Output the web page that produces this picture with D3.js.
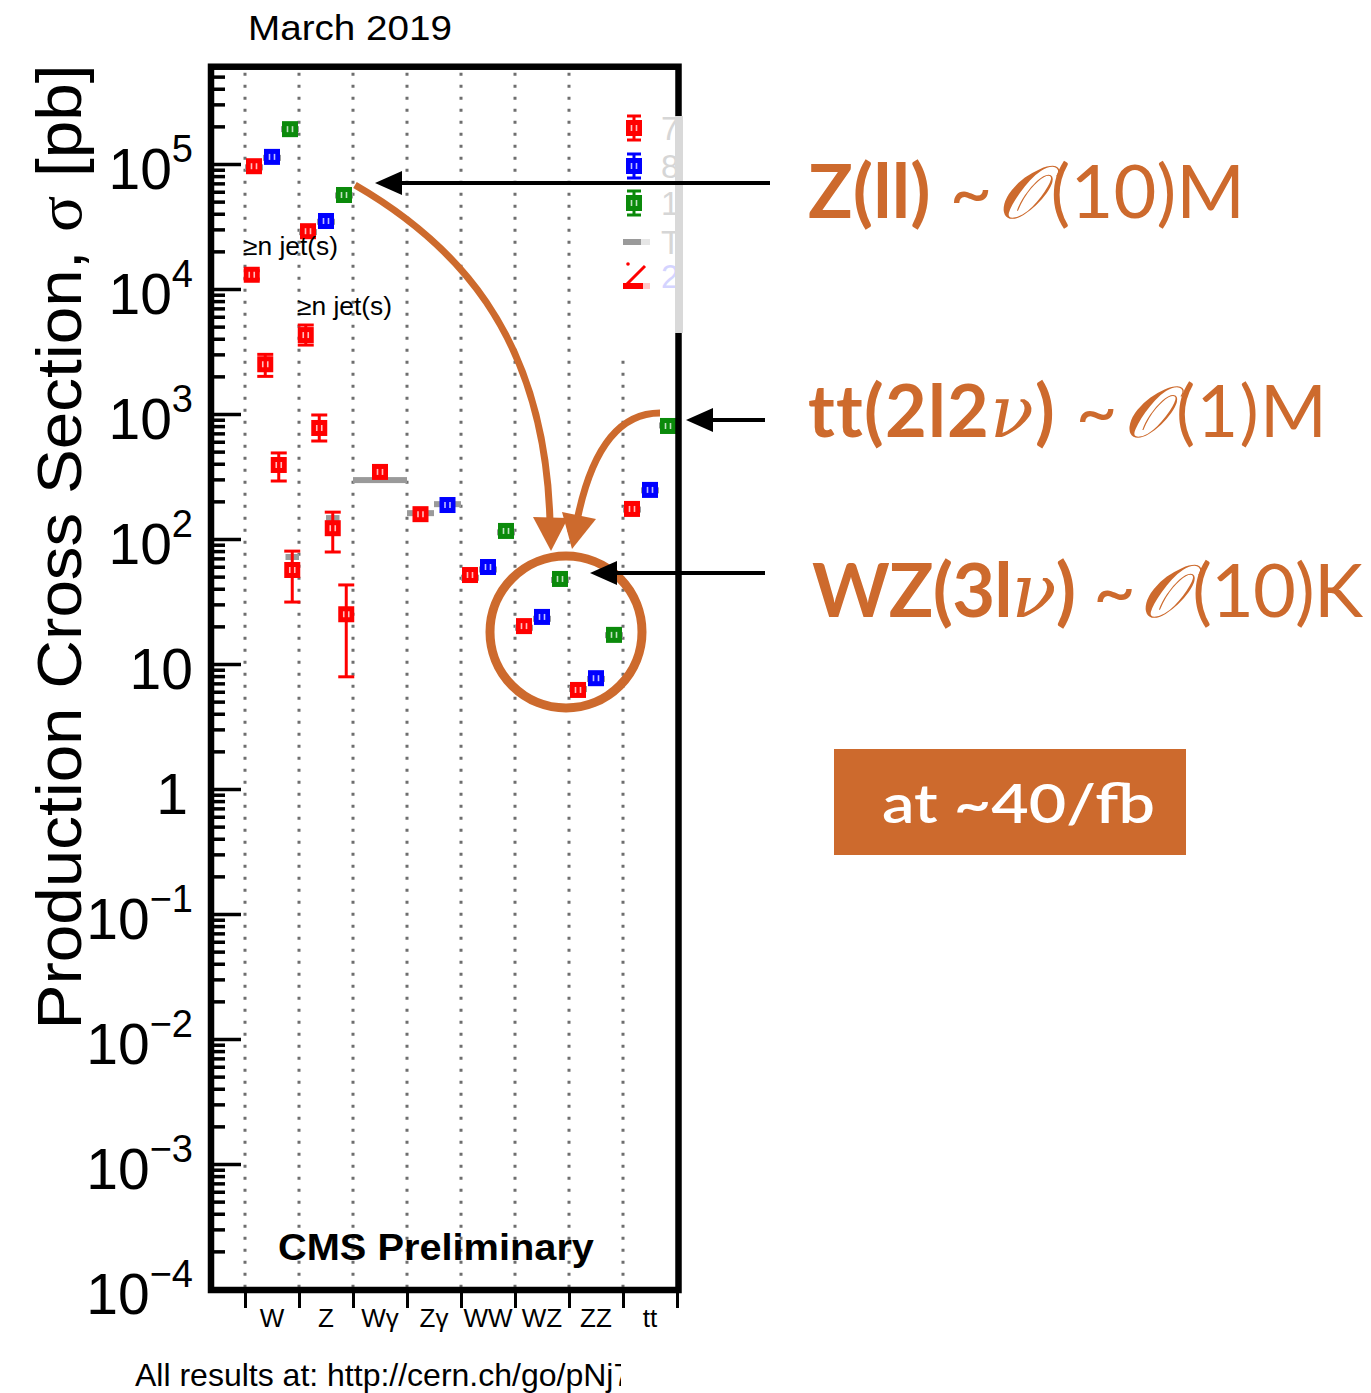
<!DOCTYPE html>
<html>
<head>
<meta charset="utf-8">
<script src="https://cdn.jsdelivr.net/npm/d3@7"></script>
<style>
  body { margin: 0; background: #fff; }
  svg { display: block; }
</style>
</head>
<body>
<svg id="chart" width="1371" height="1393"></svg>
<script>
// ---- Data (cross sections in pb) ----
const categories = ["W", "Z", "Wγ", "Zγ", "WW", "WZ", "ZZ", "tt"];
const sigma7TeV  = [9.6e4, 2.9e4, 344, 158, 51.5, 20.1, 6.2, 174];
const sigma8TeV  = [1.14e5, 3.5e4, null, 187, 59.7, 23.8, 7.7, 247];
const sigma13TeV = [1.9e5, 5.65e4, null, null, 116, 47.9, 17.1, 802];
const theory7TeV  = [9.4e4, 2.85e4, 296, 161, 49, 19.5, 6.3, 172];
const theory8TeV  = [1.12e5, 3.45e4, null, 190, 57, 23, 7.6, 245];
const theory13TeV = [1.9e5, 5.6e4, null, null, 113, 47, 17, 810];

// exclusive jet multiplicities (7 TeV)
const wJetsSigma   = [1.3e4, 2.5e3, 391, 56.5];
const wJetsErrLow  = [1.2e4, 2.0e3, 291, 31.3];
const wJetsErrHigh = [1.4e4, 3.0e3, 488, 80];
const wJetsTheory  = [1.3e4, 2.55e3, 400, 71.8];
const zJetsSigma   = [4.28e3, 773, 122, 25];
const zJetsErrLow  = [3.56e3, 608, 78.7, 7.9];
const zJetsErrHigh = [5.15e3, 982, 164, 42.9];
const zJetsTheory  = [4.3e3, 780, 147, 26];

const yTickExponents = [5, 4, 3, 2, 1, 0, -1, -2, -3, -4];
const legendLabels = ["7 TeV", "8 TeV", "13 TeV", "Theory", "2"];

// ---- Styles ----
const colors = { e7: "#ff0000", e8: "#0000ff", e13: "#0b8a0b", theory: "#9a9a9a" };
const orange = "#cd6a2d";
const sans = "Liberation Sans, Arial, Helvetica, sans-serif";

const svg = d3.select("#chart");
const defs = svg.append("defs");

// ---- Scales ----
const x = d3.scaleLinear().domain([0, 8]).range([245, 677]);
const y = d3.scaleLog().domain([1e-4, 1e5]).range([1289, 164]);
const catW = x(1) - x(0);
const frame = { left: 211, right: 678.5, top: y(6e5), bottom: 1290 };

// ---- Category separators (dotted) ----
svg.append("g").selectAll("line")
  .data(d3.range(0, 8))
  .join("line")
  .attr("x1", d => x(d)).attr("x2", d => x(d))
  .attr("y1", frame.top + 6).attr("y2", frame.bottom)
  .attr("stroke", "#6e6e6e").attr("stroke-width", 3)
  .attr("stroke-dasharray", "3 9");

// ---- Inclusive points ----
const energySeries = [
  { key: "e7", vals: sigma7TeV, th: theory7TeV },
  { key: "e8", vals: sigma8TeV, th: theory8TeV },
  { key: "e13", vals: sigma13TeV, th: theory13TeV }
];
const points = [];
categories.forEach((c, i) => {
  const present = energySeries.filter(s => s.vals[i] != null);
  const n = present.length;
  present.forEach((s, k) => {
    points.push({
      cx: x(i + (k + 0.5) / n), slot: catW / n,
      v: s.vals[i], th: s.th[i], color: colors[s.key]
    });
  });
});
// jet multiplicity points
function jetPoints(catIndex, vals, lo, hi, th) {
  vals.forEach((v, k) => {
    points.push({
      cx: x(catIndex + (k + 0.5) / vals.length), slot: catW / vals.length,
      v: v, lo: lo[k], hi: hi[k], th: th[k], color: colors.e7
    });
  });
}
jetPoints(0, wJetsSigma, wJetsErrLow, wJetsErrHigh, wJetsTheory);
jetPoints(1, zJetsSigma, zJetsErrLow, zJetsErrHigh, zJetsTheory);

// theory bands
svg.append("g").selectAll("rect")
  .data(points.filter(p => p.th != null))
  .join("rect")
  .attr("x", p => p.cx - p.slot / 2)
  .attr("width", p => p.slot)
  .attr("y", p => y(p.th) - 3)
  .attr("height", 6)
  .attr("fill", colors.theory);

// error bars
const eb = svg.append("g").selectAll("g")
  .data(points.filter(p => p.lo != null))
  .join("g")
  .attr("stroke", p => p.color).attr("stroke-width", 3);
eb.append("line")
  .attr("x1", p => p.cx).attr("x2", p => p.cx)
  .attr("y1", p => y(p.hi)).attr("y2", p => y(p.lo));
eb.append("line")
  .attr("x1", p => p.cx - 8).attr("x2", p => p.cx + 8)
  .attr("y1", p => y(p.hi)).attr("y2", p => y(p.hi));
eb.append("line")
  .attr("x1", p => p.cx - 8).attr("x2", p => p.cx + 8)
  .attr("y1", p => y(p.lo)).attr("y2", p => y(p.lo));

// markers: filled square with the small white stat-error ticks inside
function marker(g, cx, cy, color) {
  g.append("rect").attr("x", cx - 8).attr("y", cy - 8)
    .attr("width", 16).attr("height", 16).attr("fill", color);
  [-2.5, 2.5].forEach(dx => {
    g.append("line").attr("x1", cx + dx).attr("x2", cx + dx)
      .attr("y1", cy - 3).attr("y2", cy + 3)
      .attr("stroke", "#fff").attr("stroke-width", 1.6).attr("opacity", 0.75);
  });
}
const mg = svg.append("g");
points.forEach(p => marker(mg, p.cx, y(p.v), p.color));

// jet labels
[[243, 255], [297, 315]].forEach(([lx, ly]) => {
  svg.append("text").attr("x", lx).attr("y", ly)
    .attr("font-family", sans).attr("font-size", 25)
    .attr("textLength", 95).attr("lengthAdjust", "spacingAndGlyphs")
    .text("≥n jet(s)");
});

// ---- Legend ----
const legend = svg.append("g");
legend.append("rect").attr("x", 616).attr("y", 72).attr("width", 60).attr("height", 280)
  .attr("fill", "#fff");
const legendY = [128, 166, 203, 242, 276];
const legendColors = [colors.e7, colors.e8, colors.e13];
legendColors.forEach((c, i) => {
  const cy = legendY[i];
  legend.append("line").attr("x1", 634).attr("x2", 634).attr("y1", cy - 12).attr("y2", cy + 12)
    .attr("stroke", c).attr("stroke-width", 3);
  [-12, 12].forEach(d => legend.append("line").attr("x1", 627).attr("x2", 641)
    .attr("y1", cy + d).attr("y2", cy + d).attr("stroke", c).attr("stroke-width", 3));
  marker(legend, 634, cy, c);
});
legend.append("rect").attr("x", 623).attr("y", legendY[3] - 3).attr("width", 18).attr("height", 6)
  .attr("fill", colors.theory);
legend.append("rect").attr("x", 641).attr("y", legendY[3] - 3).attr("width", 9).attr("height", 6)
  .attr("fill", "#e6e6e6");
legend.append("line").attr("x1", 626).attr("y1", 285).attr("x2", 645).attr("y2", 266)
  .attr("stroke", colors.e7).attr("stroke-width", 3);
legend.append("circle").attr("cx", 628).attr("cy", 264).attr("r", 1.8).attr("fill", colors.e7);
legend.append("rect").attr("x", 623).attr("y", 283).attr("width", 20).attr("height", 6)
  .attr("fill", colors.e7);
legend.append("rect").attr("x", 643).attr("y", 283).attr("width", 7).attr("height", 6)
  .attr("fill", "#ffc8c8");
defs.append("clipPath").attr("id", "legendClip")
  .append("rect").attr("x", 600).attr("y", 60).attr("width", 75).attr("height", 300);
legend.append("g").attr("clip-path", "url(#legendClip)")
  .selectAll("text").data(legendLabels).join("text")
  .attr("x", 661).attr("y", (d, i) => legendY[i] + 12)
  .attr("font-family", sans).attr("font-size", 33)
  .attr("fill", (d, i) => i === 4 ? "#d4d4ff" : "#d6d6d6")
  .text(d => d);

// ---- Axes ----
const majors = yTickExponents.map(e => Math.pow(10, e));
const minors = [];
for (let e = -4; e <= 5; e++) {
  for (let m = 2; m <= 9; m++) {
    const v = m * Math.pow(10, e);
    if (v < 6e5) minors.push(v);
  }
}
const yAxisMajor = d3.axisRight(y).tickValues(majors).tickSize(30).tickFormat("");
const yAxisMinor = d3.axisRight(y).tickValues(minors).tickSize(14).tickFormat("");
[yAxisMajor, yAxisMinor].forEach(ax => {
  const g = svg.append("g").attr("transform", `translate(${frame.left},0)`).call(ax);
  g.select(".domain").remove();
  g.selectAll("line").attr("stroke", "#000").attr("stroke-width", 3.5);
});

// y tick labels
const yl = svg.append("g").attr("font-family", sans).attr("text-anchor", "end");
yTickExponents.forEach(e => {
  const t = yl.append("text").attr("x", 193).attr("y", y(Math.pow(10, e)) + 25)
    .attr("font-size", 57);
  if (e === 1) { t.text("10"); return; }
  if (e === 0) { t.attr("x", 188).text("1"); return; }
  t.append("tspan").text("10");
  t.append("tspan").attr("font-size", 38).attr("dy", -27)
    .text(e < 0 ? "−" + Math.abs(e) : String(e));
});

// x axis (category boundaries + labels)
const xAxis = d3.axisBottom(x).tickValues(d3.range(0, 9)).tickSize(16).tickFormat("");
const xg = svg.append("g").attr("transform", `translate(0,${frame.bottom + 2})`).call(xAxis);
xg.select(".domain").remove();
xg.selectAll("line").attr("stroke", "#000").attr("stroke-width", 3);
svg.append("g").selectAll("text").data(categories).join("text")
  .attr("x", (d, i) => x(i + 0.5)).attr("y", 1327)
  .attr("text-anchor", "middle")
  .attr("font-family", sans).attr("font-size", 26)
  .text(d => d);

// frame
svg.append("rect")
  .attr("x", frame.left).attr("y", frame.top)
  .attr("width", frame.right - frame.left).attr("height", frame.bottom - frame.top)
  .attr("fill", "none").attr("stroke", "#000").attr("stroke-width", 6.5);
svg.append("rect").attr("x", 675).attr("y", 116).attr("width", 8).attr("height", 217)
  .attr("fill", "#d9d9d9");

// ---- Titles ----
svg.append("text").attr("x", 248).attr("y", 40)
  .attr("font-family", sans).attr("font-size", 35)
  .attr("textLength", 204).attr("lengthAdjust", "spacingAndGlyphs")
  .text("March 2019");
svg.append("text").attr("x", 278).attr("y", 1260)
  .attr("font-family", sans).attr("font-size", 37)
  .attr("font-weight", "bold")
  .attr("textLength", 316).attr("lengthAdjust", "spacingAndGlyphs")
  .text("CMS Preliminary");
defs.append("clipPath").attr("id", "footClip")
  .append("rect").attr("x", 0).attr("y", 1340).attr("width", 621).attr("height", 60);
svg.append("text").attr("x", 135).attr("y", 1386)
  .attr("clip-path", "url(#footClip)")
  .attr("font-family", sans).attr("font-size", 32)
  .text("All results at: http://cern.ch/go/pNj7");
const ylab = svg.append("text")
  .attr("transform", "translate(81,547) rotate(-90)")
  .attr("text-anchor", "middle")
  .attr("font-family", sans).attr("font-size", 63)
  .attr("textLength", 965).attr("lengthAdjust", "spacingAndGlyphs");
ylab.append("tspan").text("Production Cross Section,  ");
ylab.append("tspan").attr("font-family", "Liberation Serif, serif").text("σ");
ylab.append("tspan").text(" [pb]");

// ---- Annotations ----
const ann = svg.append("g");
// orange curved arrows and circle
ann.append("path")
  .attr("d", "M355,185 C450,240 545,330 550,522")
  .attr("fill", "none").attr("stroke", orange).attr("stroke-width", 7);
ann.append("path").attr("d", "M533,517 L568,518 L551,551 Z").attr("fill", orange);
ann.append("path")
  .attr("d", "M660,413 Q600,413 578,516")
  .attr("fill", "none").attr("stroke", orange).attr("stroke-width", 7);
ann.append("path").attr("d", "M562,512 L596,519 L572,549 Z").attr("fill", orange);
ann.append("circle").attr("cx", 566).attr("cy", 632).attr("r", 76)
  .attr("fill", "none").attr("stroke", orange).attr("stroke-width", 9);

// black arrows
function blackArrow(x1, x2, yy) {
  ann.append("line").attr("x1", x1).attr("x2", x2 + 20).attr("y1", yy).attr("y2", yy)
    .attr("stroke", "#000").attr("stroke-width", 4);
  ann.append("path").attr("d", `M${x2},${yy} L${x2 + 27},${yy - 12} L${x2 + 27},${yy + 12} Z`)
    .attr("fill", "#000");
}
blackArrow(770, 375, 183);
blackArrow(765, 686, 420);
blackArrow(765, 590, 573);

// each label is one text run; letter spacing is tuned so the run spans [x0, x0 + width]
function label(yBase, x0, width, size, parts) {
  const t = ann.append("text").attr("x", x0).attr("y", yBase)
    .attr("font-family", "Lato, Open Sans, sans-serif").attr("font-size", size)
    .attr("fill", orange);
  let nChars = 0, sumDx = 0;
  parts.forEach(p => {
    const s = t.append("tspan").text(p.t);
    nChars += Array.from(p.t).length;
    if (p.b) s.attr("font-weight", 700);
    if (p.i) s.attr("font-style", "italic").attr("font-family", "DejaVu Serif, serif");
    if (p.dx) { s.attr("dx", p.dx); sumDx += p.dx; }
  });
  const natural = t.node().getComputedTextLength();
  const ls = (width - natural - sumDx) / nChars;
  t.attr("letter-spacing", Math.max(-4, Math.min(6, ls)));
}
label(218, 808, 437, 74, [
  { t: "Z(ll)", b: true }, { t: " ~" }, { t: "𝒪", i: true, dx: 4 }, { t: "(10)M", dx: 7 }
]);
label(437, 808, 517, 72, [
  { t: "tt(2l2", b: true }, { t: "ν", i: true }, { t: ")", b: true },
  { t: " ~" }, { t: "𝒪", i: true, dx: 4 }, { t: "(1)M", dx: 7 }
]);
label(617, 812, 550, 74, [
  { t: "WZ(3l", b: true }, { t: "ν", i: true }, { t: ")", b: true },
  { t: " ~" }, { t: "𝒪", i: true, dx: 4 }, { t: "(10)K", dx: 7 }
]);

// luminosity box
ann.append("rect").attr("x", 834).attr("y", 749).attr("width", 352).attr("height", 106)
  .attr("fill", orange);
ann.append("text").attr("x", 882).attr("y", 823)
  .attr("font-family", "Lato, Open Sans, sans-serif").attr("font-size", 54)
  .attr("font-weight", 600).attr("fill", "#fff")
  .attr("textLength", 273).attr("lengthAdjust", "spacingAndGlyphs")
  .text("at ~40/fb");
</script>
</body>
</html>
